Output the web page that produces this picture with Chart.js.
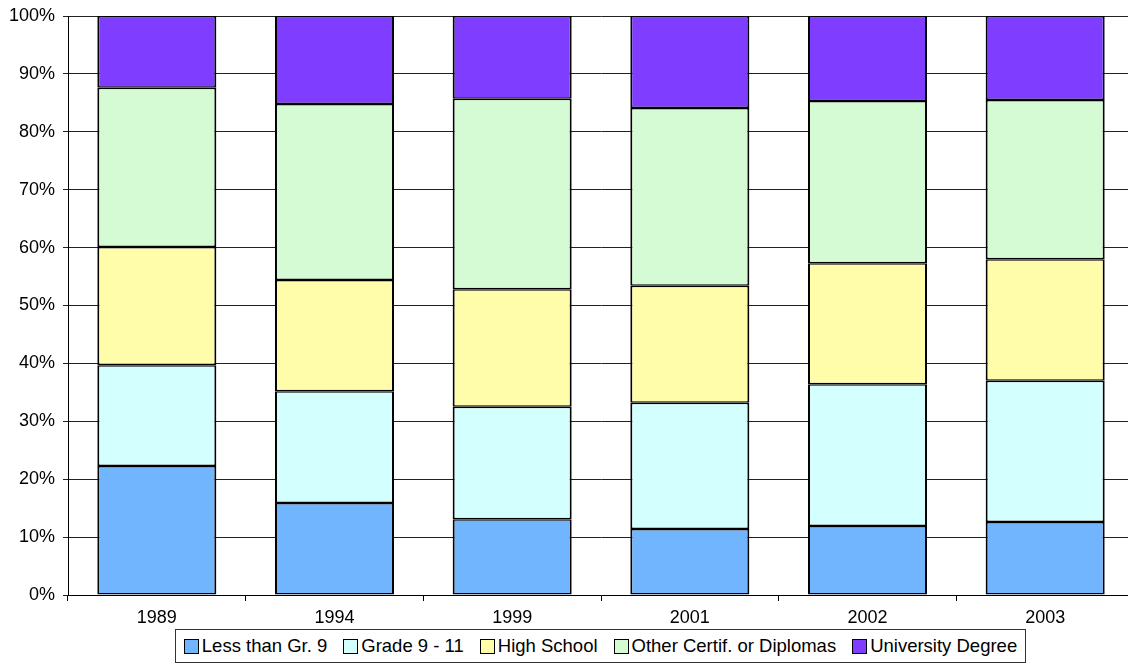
<!DOCTYPE html>
<html>
<head>
<meta charset="utf-8">
<script src="https://cdn.jsdelivr.net/npm/chart.js@4.4.0/dist/chart.umd.min.js"></script>
<style>
  html, body { margin: 0; padding: 0; background: #fff; overflow: hidden; }
  #wrap { width: 1138px; height: 629px; position: relative; }
  #legend {
    position: absolute; left: 175px; top: 629px; width: 851px; height: 34px;
    box-sizing: border-box; border: 1px solid #333;
    display: flex; align-items: center; justify-content: center; gap: 16px;
    font-family: 'Liberation Sans', Arial, Helvetica, sans-serif; font-size: 18.5px; color: #000;
  }
  #legend .item { display: flex; align-items: center; white-space: nowrap; }
  #legend .sw { width: 13px; height: 13px; border: 1px solid #000; margin-right: 3px; }
</style>
</head>
<body>
<div id="wrap"><canvas id="eduChart"></canvas></div>
<div id="legend"></div>
<script>
// years on the x axis
const years = ['1989', '1994', '1999', '2001', '2002', '2003'];

// shares (%), bottom to top
const lessThanGr9   = [22.3, 15.9, 13.1, 11.4, 11.9, 12.6];
const grade9to11    = [17.4, 19.3, 19.4, 21.8, 24.5, 24.4];
const highSchool    = [20.4, 19.2, 20.3, 20.2, 20.9, 21.0];
const otherCertif   = [27.5, 30.4, 32.9, 30.7, 28.0, 27.5];
const universityDeg = [12.4, 15.2, 14.3, 15.9, 14.7, 14.5];

const seriesNames = ['Less than Gr. 9', 'Grade 9 - 11', 'High School', 'Other Certif. or Diplomas', 'University Degree'];
const seriesColors = ['#72B5FF', '#D4FFFF', '#FFFCAA', '#D5FBD5', '#7F3DFF'];
const yTicks = [0, 10, 20, 30, 40, 50, 60, 70, 80, 90, 100];

const fontFamily = "'Liberation Sans', Arial, Helvetica, sans-serif";

const allData = [lessThanGr9, grade9to11, highSchool, otherCertif, universityDeg];

const ctx = document.getElementById('eduChart').getContext('2d');
const chart = new Chart(ctx, {
    type: 'bar',
    data: {
        labels: years,
        datasets: allData.map((vals, i) => ({
            label: seriesNames[i],
            data: vals,
            backgroundColor: seriesColors[i],
            borderColor: '#000',
            borderWidth: { left: 2, right: 2, top: 1.5, bottom: 1.5 },
            borderSkipped: false,
            barPercentage: 0.67,
            categoryPercentage: 1.0
        }))
    },
    options: {
        responsive: true,
        maintainAspectRatio: false,
        animation: false,
        layout: { padding: { top: 16, right: 4, left: 0, bottom: 0 } },
        plugins: {
            tooltip: { enabled: false },
            legend: { display: false }
        },
        scales: {
            x: {
                stacked: true,
                grid: { display: true, drawOnChartArea: false, drawTicks: true, tickLength: 6, color: '#000', offset: true },
                border: { color: '#000', width: 1 },
                ticks: { color: '#000', font: { family: fontFamily, size: 18 }, padding: 6 },
                afterFit(scale) { scale.height = 34; }
            },
            y: {
                stacked: true,
                min: 0,
                max: 100,
                afterBuildTicks(scale) { scale.ticks = yTicks.map(v => ({ value: v })); },
                grid: { color: '#222', lineWidth: 1, tickLength: 5 },
                border: { color: '#000', width: 1 },
                ticks: {
                    color: '#000',
                    padding: 8,
                    font: { family: fontFamily, size: 18 },
                    callback: v => v + '%'
                },
                afterFit(scale) {
                    scale.width = 68;
                    scale.paddingTop = 0;
                    scale.paddingBottom = 0;
                }
            }
        }
    }
});

// legend below the chart, built from the same series lists
const legendEl = document.getElementById('legend');
chart.data.datasets.forEach(ds => {
    const item = document.createElement('div');
    item.className = 'item';
    const sw = document.createElement('span');
    sw.className = 'sw';
    sw.style.background = ds.backgroundColor;
    const txt = document.createElement('span');
    txt.textContent = ds.label;
    item.appendChild(sw);
    item.appendChild(txt);
    legendEl.appendChild(item);
});
</script>
</body>
</html>
